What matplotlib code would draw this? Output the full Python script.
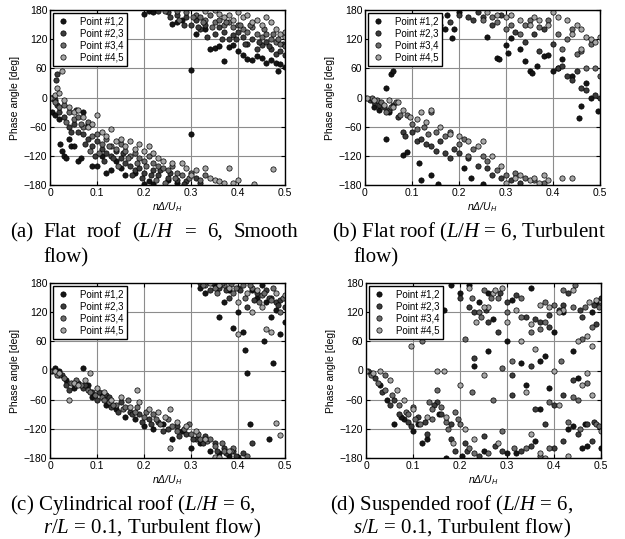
import matplotlib
matplotlib.use('Agg')
import matplotlib.pyplot as plt

plt.rcParams['font.family'] = ['Liberation Sans', 'DejaVu Sans']
plt.rcParams['mathtext.fontset'] = 'custom'
plt.rcParams['mathtext.rm'] = 'Liberation Serif'
plt.rcParams['mathtext.it'] = 'Liberation Serif:italic'
plt.rcParams['mathtext.sf'] = 'Liberation Sans:italic'

# ---- data (nDelta/U_H, phase angle in deg) ----
series_labels = ['Point #1,2', 'Point #2,3', 'Point #3,4', 'Point #4,5']
xticks = [0, 0.1, 0.2, 0.3, 0.4, 0.5]
yticks = [-180, -120, -60, 0, 60, 120, 180]

# (a) flat roof, smooth flow
a_p12 = [(0.005, -30), (0.01, -35), (0.02, -45), (0.022, -95), (0.025, -110), (0.03, -120), (0.035, -125),
         (0.04, -85), (0.045, -100), (0.05, -100), (0.06, -130), (0.065, -125), (0.07, -30), (0.08, -55),
         (0.09, -140), (0.1, -140), (0.11, -120), (0.12, -155), (0.13, -150), (0.14, -130), (0.15, -145),
         (0.16, -160), (0.18, -155), (0.2, -178), (0.21, -172), (0.22, -178), (0.25, -170), (0.27, -175),
         (0.3, -75), (0.2, 172), (0.21, 178), (0.22, 175), (0.26, 152), (0.27, 155), (0.28, 160), (0.3, 57),
         (0.31, 130), (0.33, 140), (0.34, 100), (0.35, 102), (0.36, 105), (0.37, 75), (0.38, 103), (0.39, 107),
         (0.4, 95), (0.41, 88), (0.42, 80), (0.43, 78), (0.44, 85), (0.45, 82), (0.46, 72), (0.47, 78),
         (0.48, 70), (0.485, 54), (0.49, 68), (0.5, 63)]
a_p23 = [(0.005, 0), (0.01, -5), (0.012, 35), (0.015, 48), (0.015, -15), (0.02, -30), (0.03, -40), (0.04, -60),
         (0.05, -55), (0.055, -25), (0.06, -70), (0.07, -75), (0.08, -85), (0.09, -100), (0.1, -90),
         (0.11, -105), (0.12, -115), (0.13, -120), (0.14, -110), (0.15, -125), (0.16, -135), (0.17, -140),
         (0.18, -150), (0.19, -145), (0.2, -155), (0.22, -150), (0.23, -160), (0.25, -165), (0.27, -170),
         (0.29, -172), (0.31, -165), (0.32, -175), (0.23, 178), (0.25, 175), (0.27, 170), (0.29, 165),
         (0.3, 150), (0.31, 160), (0.32, 140), (0.33, 150), (0.35, 130), (0.36, 145), (0.37, 135), (0.38, 120),
         (0.39, 128), (0.4, 135), (0.41, 125), (0.42, 110), (0.43, 120), (0.44, 100), (0.45, 108), (0.46, 115),
         (0.47, 100), (0.48, 90), (0.49, 95), (0.5, 88),
         (0.045, -70), (0.075, -95), (0.095, -120), (0.115, -130), (0.135, -125), (0.155, -115),
         (0.175, -160), (0.195, -165), (0.215, -160), (0.235, -150), (0.255, -155), (0.285, -178),
         (0.255, 165), (0.285, 150), (0.315, 145), (0.335, 125), (0.365, 120), (0.395, 120), (0.415, 110),
         (0.445, 115), (0.465, 105), (0.495, 110)]
a_p34 = [(0.005, 0), (0.01, -10), (0.02, -20), (0.03, -15), (0.04, -30), (0.05, -45), (0.06, -40), (0.07, -60),
         (0.08, -50), (0.09, -80), (0.1, -75), (0.11, -95), (0.12, -85), (0.13, -100), (0.14, -105),
         (0.15, -95), (0.16, -110), (0.17, -120), (0.18, -115), (0.19, -125), (0.2, -130), (0.21, -120),
         (0.22, -135), (0.23, -140), (0.24, -145), (0.25, -150), (0.26, -140), (0.27, -155), (0.28, -160),
         (0.3, -155), (0.32, -170), (0.33, -160), (0.27, 178), (0.29, 175), (0.31, 170), (0.32, 165),
         (0.33, 160), (0.34, 170), (0.35, 155), (0.36, 160), (0.37, 150), (0.38, 155), (0.39, 145), (0.4, 150),
         (0.41, 140), (0.42, 135), (0.43, 145), (0.44, 130), (0.45, 125), (0.46, 130), (0.47, 120),
         (0.48, 115), (0.49, 110), (0.5, 105),
         (0.035, -50), (0.065, -55), (0.085, -110), (0.105, -115), (0.125, -100), (0.145, -140),
         (0.165, -125), (0.185, -135), (0.205, -140), (0.225, -170), (0.245, -175), (0.265, -165),
         (0.295, -165), (0.245, 178), (0.275, 160), (0.305, 165), (0.325, 155), (0.345, 145), (0.375, 155),
         (0.405, 150), (0.425, 150), (0.455, 140), (0.475, 130), (0.485, 120)]
a_p45 = [(0.0, 0), (0.01, 5), (0.015, 20), (0.02, 10), (0.025, 55), (0.03, -5), (0.04, -20), (0.05, -30),
         (0.06, -25), (0.07, -40), (0.08, -60), (0.09, -55), (0.1, -35), (0.11, -70), (0.12, -80), (0.13, -65),
         (0.14, -90), (0.15, -85), (0.16, -100), (0.17, -90), (0.18, -105), (0.19, -95), (0.2, -110),
         (0.21, -100), (0.22, -115), (0.23, -125), (0.24, -130), (0.26, -135), (0.28, -135), (0.29, -145),
         (0.3, -160), (0.31, -150), (0.33, -145), (0.34, -165), (0.35, -170), (0.36, -172), (0.37, -175),
         (0.38, -145), (0.39, -175), (0.4, -170), (0.435, -178), (0.475, -148), (0.33, 178), (0.35, 180),
         (0.36, 172), (0.37, 165), (0.38, 170), (0.39, 160), (0.4, 175), (0.41, 165), (0.42, 170), (0.43, 155),
         (0.44, 160), (0.45, 150), (0.46, 165), (0.47, 155), (0.48, 140), (0.49, 130), (0.5, 125), (0.5, 135)]

# (b) flat roof, turbulent flow
b_p12 = [(0.045, -85), (0.08, -118), (0.09, -112), (0.115, -135), (0.12, -170), (0.14, -160), (0.155, -178),
         (0.21, -145), (0.225, -165), (0.25, -178), (0.045, 20), (0.055, 48), (0.06, 55), (0.02, -20),
         (0.03, -25), (0.05, -30), (0.15, 160), (0.16, 150), (0.17, 140), (0.175, 170), (0.185, 122),
         (0.19, 140), (0.2, 175), (0.26, 125), (0.28, 82), (0.285, 80), (0.3, 108), (0.305, 92), (0.31, 122),
         (0.33, 100), (0.34, 75), (0.35, 55), (0.355, 50), (0.365, 65), (0.38, 85), (0.39, 88), (0.4, 55),
         (0.41, 60), (0.42, 80), (0.44, 45), (0.455, -42), (0.46, -18), (0.47, 30), (0.48, -2), (0.495, -28)]
b_p23 = [(0.01, -5), (0.02, -10), (0.03, -15), (0.04, -20), (0.05, -25), (0.06, -15), (0.07, -40), (0.08, -70),
         (0.085, -80), (0.1, -70), (0.11, -90), (0.12, -85), (0.13, -95), (0.14, -100), (0.15, -110),
         (0.16, -90), (0.17, -115), (0.18, -125), (0.19, -105), (0.2, -115), (0.22, -125), (0.24, -140),
         (0.26, -145), (0.27, -160), (0.29, -165), (0.31, -170), (0.33, -175), (0.16, 165), (0.18, 155),
         (0.2, 170), (0.22, 165), (0.23, 160), (0.24, 175), (0.25, 165), (0.27, 150), (0.29, 170), (0.32, 135),
         (0.34, 115), (0.36, 130), (0.37, 95), (0.38, 140), (0.4, 110), (0.41, 60), (0.42, 65), (0.43, 45),
         (0.44, 35), (0.45, 55), (0.46, 20), (0.47, 15), (0.49, 5), (0.5, -2)]
b_p34 = [(0.0, 0), (0.015, 0), (0.025, -5), (0.035, -10), (0.045, -30), (0.055, -20), (0.065, -10),
         (0.075, -35), (0.09, -35), (0.1, -55), (0.11, -65), (0.125, -60), (0.135, -75), (0.14, -30),
         (0.15, -70), (0.17, -80), (0.18, -70), (0.2, -95), (0.21, -85), (0.22, -120), (0.23, -105),
         (0.25, -120), (0.26, -130), (0.28, -150), (0.3, -160), (0.32, -155), (0.34, -165), (0.36, -170),
         (0.38, -175), (0.25, 160), (0.27, 165), (0.28, 155), (0.3, 140), (0.31, 150), (0.33, 130), (0.34, 150),
         (0.35, 160), (0.37, 145), (0.39, 160), (0.41, 130), (0.42, 100), (0.43, 120), (0.44, 140), (0.45, 90),
         (0.46, 95), (0.47, 60), (0.48, 110), (0.49, 60), (0.5, 45)]
b_p45 = [(0.005, 0), (0.02, -5), (0.04, -15), (0.05, -5), (0.06, -20), (0.07, -10), (0.08, -25), (0.095, -40),
         (0.11, -45), (0.12, -30), (0.13, -50), (0.14, -25), (0.16, -60), (0.18, -75), (0.2, -80), (0.22, -90),
         (0.24, -100), (0.25, -90), (0.27, -120), (0.29, -140), (0.3, -175), (0.32, -165), (0.33, -160),
         (0.35, -170), (0.36, -165), (0.37, -175), (0.38, -160), (0.39, -170), (0.42, -165), (0.44, -165),
         (0.26, 175), (0.28, 170), (0.3, 165), (0.31, 170), (0.33, 160), (0.35, 150), (0.36, 165), (0.37, 160),
         (0.39, 150), (0.4, 175), (0.41, 165), (0.43, 160), (0.44, 130), (0.45, 150), (0.46, 140), (0.47, 125),
         (0.48, 120), (0.49, 115), (0.5, 125), (0.46, 100)]

# (c) cylindrical roof, turbulent flow
c_p12 = [(0.01, 5), (0.02, 0), (0.035, -20), (0.05, -35), (0.07, 5), (0.08, -30), (0.09, -55), (0.11, -50),
         (0.12, -70), (0.14, -80), (0.16, -95), (0.18, -100), (0.2, -115), (0.22, -120), (0.24, -110),
         (0.26, -140), (0.28, -125), (0.3, -160), (0.32, -150), (0.34, -165), (0.36, -170), (0.38, -175),
         (0.4, -178), (0.425, -110), (0.465, -140), (0.32, 170), (0.33, 160), (0.35, 175), (0.36, 110),
         (0.37, 140), (0.38, 165), (0.39, 88), (0.4, 120), (0.41, 80), (0.42, -5), (0.415, 42), (0.43, 165),
         (0.44, 150), (0.45, 175), (0.455, 60), (0.46, 140), (0.47, 110), (0.475, 15), (0.48, 125), (0.49, 75),
         (0.5, 100)]
c_p23 = [(0.005, 0), (0.015, -5), (0.025, -10), (0.04, -40), (0.06, -25), (0.07, -35), (0.09, -45), (0.1, -60),
         (0.12, -50), (0.13, -75), (0.15, -65), (0.17, -85), (0.19, -90), (0.21, -100), (0.23, -105),
         (0.25, -120), (0.27, -115), (0.29, -130), (0.31, -140), (0.33, -135), (0.35, -150), (0.37, -160),
         (0.39, -165), (0.41, -170), (0.43, -150), (0.32, 180), (0.34, 165), (0.36, 170), (0.38, 150),
         (0.4, 170), (0.42, 130), (0.44, 160), (0.46, 165), (0.47, 150), (0.48, 140), (0.49, 145), (0.5, 130),
         (0.035, -30), (0.075, -30), (0.105, -45), (0.125, -55), (0.145, -85), (0.175, -90), (0.195, -105),
         (0.215, -110), (0.24, -125), (0.275, -135), (0.305, -140), (0.325, -150), (0.355, -165),
         (0.375, -170), (0.395, -175), (0.345, 180), (0.375, 165), (0.405, 165), (0.435, 145), (0.465, 150),
         (0.485, 135)]
c_p34 = [(0.0, 0), (0.02, -10), (0.03, -15), (0.045, -25), (0.055, -20), (0.065, -30), (0.08, -40),
         (0.095, -50), (0.11, -55), (0.125, -65), (0.14, -70), (0.155, -80), (0.165, -60), (0.18, -85),
         (0.2, -95), (0.22, -90), (0.235, -110), (0.25, -100), (0.27, -125), (0.285, -120), (0.3, -130),
         (0.32, -140), (0.335, -145), (0.35, -155), (0.37, -165), (0.39, -160), (0.42, -175), (0.33, 175),
         (0.35, 170), (0.37, 175), (0.39, 160), (0.41, 175), (0.43, 170), (0.45, 155), (0.47, 145),
         (0.49, 120), (0.5, 150),
         (0.015, -10), (0.055, -30), (0.085, -45), (0.115, -60), (0.135, -70), (0.16, -75), (0.185, -75),
         (0.205, -85), (0.225, -100), (0.26, -115), (0.295, -110), (0.315, -130), (0.34, -140), (0.365, -150),
         (0.385, -165), (0.325, 175), (0.355, 160), (0.365, 180), (0.385, 178), (0.395, 170), (0.415, 150),
         (0.425, 175), (0.445, 140), (0.455, 160), (0.475, 170), (0.495, 150)]
c_p45 = [(0.01, 0), (0.02, -5), (0.04, -60), (0.05, -25), (0.06, -30), (0.075, -20), (0.085, -5), (0.1, -35),
         (0.115, -45), (0.13, -60), (0.15, -55), (0.17, -75), (0.185, -40), (0.19, -65), (0.21, -80),
         (0.23, -85), (0.245, -95), (0.255, -80), (0.255, -160), (0.27, -105), (0.29, -115), (0.31, -125),
         (0.33, -140), (0.35, -178), (0.36, -178), (0.38, -165), (0.48, -108), (0.49, -132), (0.34, 180),
         (0.36, 175), (0.38, 170), (0.4, 140), (0.4, 75), (0.42, 160), (0.43, 120), (0.44, 165), (0.45, 130),
         (0.46, 85), (0.47, 80), (0.48, 160), (0.5, 155)]

# (d) suspended roof, turbulent flow
d_p12 = [(0.01, -5), (0.03, -30), (0.045, -60), (0.06, -110), (0.08, -100), (0.1, -125), (0.12, -150),
         (0.13, -140), (0.17, -180), (0.165, 125), (0.18, 175), (0.2, 160), (0.22, 175), (0.23, 10),
         (0.24, 140), (0.25, -165), (0.26, 160), (0.27, 105), (0.3, 60), (0.31, 145), (0.32, -170), (0.33, 15),
         (0.34, -30), (0.35, 170), (0.36, -145), (0.37, 20), (0.38, 30), (0.39, -35), (0.4, 80), (0.42, 120),
         (0.43, -120), (0.44, 40), (0.45, -15), (0.46, -160), (0.47, -155), (0.48, 120), (0.49, 140),
         (0.5, -160), (0.075, -95), (0.11, -110), (0.155, -90), (0.205, -175), (0.26, 40), (0.3, -170),
         (0.37, -80), (0.44, -115), (0.465, -110)]
d_p23 = [(0.005, 0), (0.02, -15), (0.035, -45), (0.05, -70), (0.07, -90), (0.09, -105), (0.11, -95),
         (0.13, -130), (0.15, -65), (0.16, -90), (0.18, -140), (0.19, -165), (0.2, 150), (0.21, -150),
         (0.22, 130), (0.23, 25), (0.24, -175), (0.25, -135), (0.26, 100), (0.28, 80), (0.29, -165), (0.3, 140),
         (0.31, -10), (0.32, 155), (0.33, -165), (0.35, 10), (0.36, -80), (0.37, 100), (0.38, -110), (0.39, 90),
         (0.4, -160), (0.41, 125), (0.42, -50), (0.43, 160), (0.44, -20), (0.45, -130), (0.46, 110),
         (0.47, -110), (0.48, -145), (0.49, 95), (0.5, 150),
         (0.06, -60), (0.095, -115), (0.125, -105), (0.145, -70), (0.18, -110), (0.23, 120), (0.255, 125),
         (0.285, 160), (0.34, 110), (0.36, 105), (0.39, 115), (0.42, 135), (0.455, 125), (0.485, 135),
         (0.215, -165), (0.275, -155), (0.35, -155), (0.42, -145), (0.485, -105), (0.31, -50), (0.4, -70)]
d_p34 = [(0.01, -10), (0.025, -25), (0.04, -10), (0.055, -50), (0.07, -70), (0.085, -85), (0.1, -75),
         (0.115, -110), (0.12, 60), (0.14, -100), (0.15, -40), (0.16, -75), (0.175, -120), (0.19, -85),
         (0.2, -110), (0.21, 65), (0.22, -160), (0.24, 120), (0.25, 165), (0.27, -60), (0.28, 150),
         (0.29, -125), (0.3, 120), (0.31, 20), (0.33, 110), (0.34, -160), (0.35, 80), (0.37, -175), (0.38, 140),
         (0.39, -65), (0.4, 135), (0.42, 165), (0.43, -105), (0.44, 130), (0.45, -60), (0.46, 65), (0.47, -25),
         (0.48, 90), (0.49, -110), (0.5, 135),
         (0.04, -40), (0.09, -90), (0.105, -100), (0.135, -65), (0.14, -80), (0.17, -105), (0.195, -100),
         (0.225, 150), (0.245, 110), (0.265, 150), (0.33, 150), (0.37, 85), (0.38, 100), (0.445, 175),
         (0.465, 130), (0.495, 130), (0.23, -170), (0.26, -170), (0.315, -160), (0.39, -160), (0.455, -120),
         (0.495, -115), (0.225, -45), (0.29, 5), (0.415, 20), (0.44, -55)]
d_p45 = [(0.0, 0), (0.015, -5), (0.03, 0), (0.05, -20), (0.065, -40), (0.08, -60), (0.095, 50), (0.1, -80),
         (0.13, -95), (0.15, 0), (0.165, 0), (0.17, -95), (0.185, -150), (0.2, -30), (0.21, -120), (0.22, 170),
         (0.23, -140), (0.25, -10), (0.26, 130), (0.27, 160), (0.28, -150), (0.29, 170), (0.3, 100),
         (0.32, 125), (0.33, 60), (0.34, -45), (0.35, -130), (0.36, 45), (0.37, 135), (0.38, -180), (0.39, 130),
         (0.4, 0), (0.41, -70), (0.42, 125), (0.43, -175), (0.44, 165), (0.45, 60), (0.46, -30), (0.47, 70),
         (0.48, 50), (0.49, 145), (0.5, -125),
         (0.235, 100), (0.25, 130), (0.275, 165), (0.35, 95), (0.41, 120), (0.475, 140), (0.37, -170),
         (0.47, -5), (0.48, -50)]

panels = [
    (a_p12, a_p23, a_p34, a_p45),
    (b_p12, b_p23, b_p34, b_p45),
    (c_p12, c_p23, c_p34, c_p45),
    (d_p12, d_p23, d_p34, d_p45),
]

# captions: (first line words, second line)
captions = [
    (['(a)', 'Flat', 'roof', '($L/H$', '=', '6,', 'Smooth'], 'flow)'),
    (['(b) Flat roof ($L/H$ = 6, Turbulent'], 'flow)'),
    (['(c) Cylindrical roof ($L/H$ = 6,'], '$r/L$ = 0.1, Turbulent flow)'),
    (['(d) Suspended roof ($L/H$ = 6,'], '$s/L$ = 0.1, Turbulent flow)'),
]

W, H = 625, 539
colors = ['#151515', '#3c3c3c', '#6c6c6c', '#a6a6a6']

fig = plt.figure(figsize=(W / 100, H / 100), dpi=100)

# axes boxes in pixels: left, top
boxes = [(50, 10), (365, 10), (50, 283), (366, 283)]
aw, ah = 235, 175

for (left, top), pts in zip(boxes, panels):
    ax = fig.add_axes([left / W, 1 - (top + ah) / H, aw / W, ah / H])
    for s, lab, col in zip(pts, series_labels, colors):
        xs = [p[0] for p in s]
        ys = [p[1] for p in s]
        ax.plot(xs, ys, 'o', ms=3.8, mfc=col, mec='black', mew=0.5, label=lab)
    ax.set_xlim(0, 0.5)
    ax.set_ylim(-180, 180)
    ax.set_xticks(xticks)
    ax.set_yticks(yticks)
    ax.set_xticklabels(['0', '0.1', '0.2', '0.3', '0.4', '0.5'])
    ax.grid(True, color='#8c8c8c', lw=0.8)
    ax.set_axisbelow(True)
    ax.tick_params(direction='in', length=3, width=0.8, labelsize=7.5, pad=2,
                   top=True, right=True)
    for sp in ax.spines.values():
        sp.set_linewidth(1.0)
    ax.set_ylabel('Phase angle [deg]', fontsize=7.5, labelpad=3)
    ax.set_xlabel(r'$\mathsf{n\Delta/U_H}$', fontsize=7.5, labelpad=2)
    leg = ax.legend(loc='upper left', fontsize=7, fancybox=False, edgecolor='black', framealpha=1,
                    borderaxespad=0.3, handletextpad=1.0, handlelength=1.4, labelspacing=0.2,
                    borderpad=0.35, markerscale=1.0)
    leg.get_frame().set_linewidth(1.0)

# captions
cap_pos = [((10, 298, 237), (43, 262)), ((332, None, 237), (353, 262)),
           ((10, None, 510), (43, 533)), ((330, None, 510), (353, 533))]
fig.canvas.draw()
renderer = fig.canvas.get_renderer()
for (words, line2), ((x0, x1, yb1), (x2, yb2)) in zip(captions, cap_pos):
    tk = dict(fontsize=15, family='Liberation Serif', va='baseline', ha='left')
    if x1 is None:
        fig.text(x0 / W, 1 - yb1 / H, words[0], **tk)
    else:
        txts = [fig.text(x0 / W, 1 - yb1 / H, w, **tk) for w in words]
        widths = [t.get_window_extent(renderer).width for t in txts]
        gap = (x1 - x0 - sum(widths)) / (len(words) - 1)
        x = x0
        for t, wd in zip(txts, widths):
            t.set_x(x / W)
            x += wd + gap
    fig.text(x2 / W, 1 - yb2 / H, line2, **tk)

fig.savefig('out.png', dpi=100)
